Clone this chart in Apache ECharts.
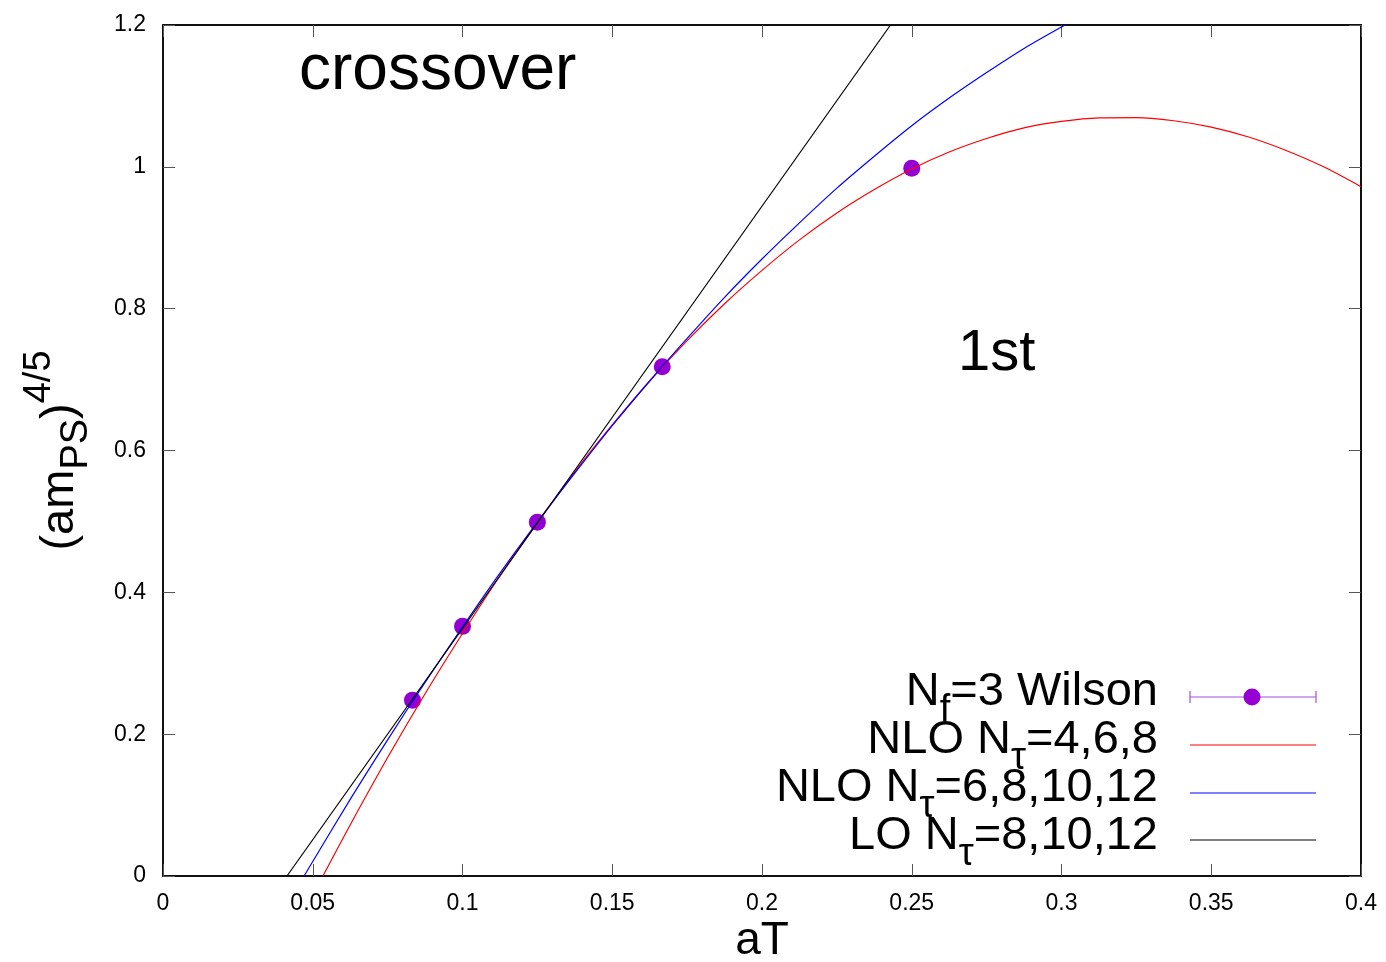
<!DOCTYPE html>
<html><head><meta charset="utf-8">
<script src="https://cdn.jsdelivr.net/npm/echarts@6/dist/echarts.min.js"></script>
<style>html,body{margin:0;padding:0;background:#fff;overflow:hidden}#c{width:1386px;height:962px}</style>
</head><body><div id="c"></div>
<script>
// ---- data ----
const wilsonAT = [0.0833, 0.1, 0.125, 0.1667, 0.25];
const wilsonY  = [0.248, 0.352, 0.499, 0.718, 0.998];

const nlo468AT = [0.0534, 0.0625, 0.075, 0.0875, 0.1, 0.1125, 0.125, 0.1375, 0.15, 0.1625, 0.175, 0.1875, 0.2, 0.2125, 0.225, 0.2375, 0.25, 0.2625, 0.275, 0.2875, 0.3, 0.3125, 0.325, 0.3375, 0.35, 0.3625, 0.375, 0.3875, 0.4];
const nlo468Y  = [0, 0.072, 0.167, 0.257, 0.342, 0.423, 0.498, 0.570, 0.636, 0.698, 0.755, 0.807, 0.854, 0.897, 0.935, 0.968, 0.997, 1.021, 1.040, 1.055, 1.064, 1.069, 1.0695, 1.065, 1.056, 1.042, 1.023, 1.000, 0.972];

const nlo681012AT = [0.0471, 0.0625, 0.075, 0.0875, 0.1, 0.1125, 0.125, 0.1375, 0.15, 0.1625, 0.175, 0.1875, 0.2, 0.2125, 0.225, 0.2375, 0.25, 0.2625, 0.275, 0.2875, 0.3012];
const nlo681012Y  = [0, 0.108, 0.192, 0.273, 0.351, 0.427, 0.499, 0.568, 0.635, 0.698, 0.758, 0.816, 0.870, 0.921, 0.970, 1.015, 1.058, 1.097, 1.133, 1.167, 1.200];

const lo81012AT = [0.0414, 0.2429];
const lo81012Y  = [0, 1.2];

const xRange = [0, 0.4], xStep = 0.05;
const yRange = [0, 1.2], yStep = 0.2;

const FONT = "'Liberation Sans', Helvetica, Arial, sans-serif";
const pair = (xs, ys) => xs.map((x, i) => [x, ys[i]]);

const chart = echarts.init(document.getElementById('c'), null, {renderer: 'canvas', width: 1386, height: 962});

const tickStyle = {show: true, inside: true, length: 12, lineStyle: {color: '#555', width: 1}};
const axisLine = {show: true, onZero: false, lineStyle: {color: '#111', width: 2}};

const legRich = {
  m: {fontSize: 47, fontFamily: FONT, color: '#000'},
  s: {fontSize: 38, fontFamily: FONT, color: '#000', padding: [38, 0, 0, 0]}
};
function legText(text, x, y) {
  return {type: 'text', x: x, y: y, z: 100,
    style: {text: text, rich: legRich, align: 'right', verticalAlign: 'middle', fontFamily: FONT}};
}
function legLine(y, color) {
  return {type: 'line', z: 100, shape: {x1: 1190, y1: y, x2: 1316, y2: y}, style: {stroke: color, lineWidth: 1}};
}

const option = {
  backgroundColor: '#fff',
  animation: false,
  textStyle: {fontFamily: FONT},
  grid: {left: 163, width: 1198, top: 25, height: 851, containLabel: false, outerBoundsMode: 'none'},
  xAxis: [{
    type: 'value', min: xRange[0], max: xRange[1], interval: xStep,
    axisLine: axisLine, axisTick: tickStyle, splitLine: {show: false},
    axisLabel: {fontSize: 23, color: '#000', margin: 16, fontFamily: FONT},
    name: 'aT', nameLocation: 'middle', nameGap: 42, nameMoveOverlap: false,
    nameTextStyle: {fontSize: 46, color: '#000', fontFamily: FONT}
  }, {
    type: 'value', position: 'top', min: xRange[0], max: xRange[1], interval: xStep,
    axisLine: axisLine, axisTick: tickStyle, axisLabel: {show: false}, splitLine: {show: false}
  }],
  yAxis: [{
    type: 'value', min: yRange[0], max: yRange[1], interval: yStep,
    axisLine: axisLine, axisTick: tickStyle, splitLine: {show: false},
    axisLabel: {fontSize: 23, color: '#000', margin: 17, fontFamily: FONT},
    name: '{m|(am}{s|PS}{m|)}{p|4/5}', nameLocation: 'middle', nameGap: 64, nameRotate: 90, nameMoveOverlap: false,
    nameTextStyle: {
      fontFamily: FONT, color: '#000',
      rich: {
        m: {fontSize: 47, fontFamily: FONT, color: '#000'},
        s: {fontSize: 38, fontFamily: FONT, color: '#000', padding: [34, 0, 0, 0]},
        p: {fontSize: 38, fontFamily: FONT, color: '#000', padding: [0, 0, 40, 0]}
      }
    }
  }, {
    type: 'value', position: 'right', min: yRange[0], max: yRange[1], interval: yStep,
    axisLine: axisLine, axisTick: tickStyle, axisLabel: {show: false}, splitLine: {show: false}
  }],
  series: [{
    name: 'Nf=3 Wilson', type: 'scatter', data: pair(wilsonAT, wilsonY),
    symbol: 'circle', symbolSize: 17, itemStyle: {color: '#9400d3', opacity: 1}, z: 1
  }, {
    name: 'NLO Ntau=4,6,8', type: 'line', data: pair(nlo468AT, nlo468Y), smooth: 0.3,
    showSymbol: false, lineStyle: {color: '#ff0000', width: 1.2}, z: 3
  }, {
    name: 'NLO Ntau=6,8,10,12', type: 'line', data: pair(nlo681012AT, nlo681012Y), smooth: 0.3,
    showSymbol: false, lineStyle: {color: '#0000ff', width: 1.2}, z: 3
  }, {
    name: 'LO Ntau=8,10,12', type: 'line', data: pair(lo81012AT, lo81012Y),
    showSymbol: false, lineStyle: {color: '#000000', width: 1.2}, z: 3
  }],
  graphic: [
    {type: 'text', x: 299, y: 71, z: 100, style: {text: 'crossover', fontSize: 64, fontFamily: FONT, fill: '#000', verticalAlign: 'middle'}},
    {type: 'text', x: 958, y: 354, z: 100, style: {text: '1st', fontSize: 58, fontFamily: FONT, fill: '#000', verticalAlign: 'middle'}},
    legText('{m|N}{s|f}{m|=3 Wilson}', 1158, 692),
    legText('{m|NLO N}{s|τ}{m|=4,6,8}', 1158, 740),
    legText('{m|NLO N}{s|τ}{m|=6,8,10,12}', 1158, 788),
    legText('{m|LO N}{s|τ}{m|=8,10,12}', 1158, 836),
    {type: 'line', z: 100, shape: {x1: 1190, y1: 697, x2: 1316, y2: 697}, style: {stroke: '#a64de0', lineWidth: 1.2}},
    {type: 'line', z: 100, shape: {x1: 1190, y1: 691, x2: 1190, y2: 703}, style: {stroke: '#a64de0', lineWidth: 1.2}},
    {type: 'line', z: 100, shape: {x1: 1316, y1: 691, x2: 1316, y2: 703}, style: {stroke: '#a64de0', lineWidth: 1.2}},
    {type: 'circle', z: 101, shape: {cx: 1252, cy: 697, r: 8.5}, style: {fill: '#9400d3'}},
    legLine(745, '#ff0000'),
    legLine(793, '#0000ff'),
    legLine(840, '#000000')
  ]
};
chart.setOption(option);
</script>
</body></html>
